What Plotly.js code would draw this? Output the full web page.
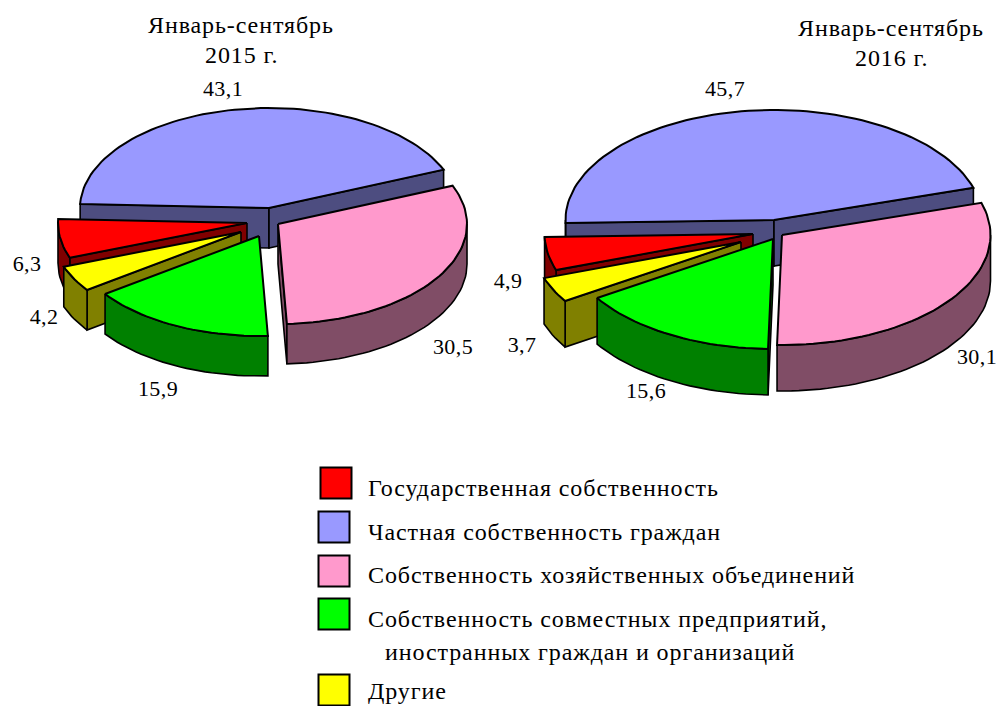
<!DOCTYPE html>
<html><head><meta charset="utf-8">
<script src="https://cdn.plot.ly/plotly-3.0.1.min.js"></script>
<style>
html,body{margin:0;padding:0;background:#fff}
#chart{width:1000px;height:706px}
.annotation-text{letter-spacing:0.9px}
.textpoint text{letter-spacing:0.4px}
</style></head><body><div id="chart"></div>
<script>
const categories = ["Государственная собственность","Частная собственность граждан","Собственность хозяйственных объединений","Собственность совместных предприятий,","Другие"];
const categoryContinuation = "иностранных граждан и организаций";
const values2015 = [6.3,43.1,30.5,15.9,4.2];
const values2016 = [4.9,45.7,30.1,15.6,3.7];
const titles2015 = ["Январь-сентябрь","2015 г."];
const titles2016 = ["Январь-сентябрь","2016 г."];
const topColors  = ["#ff0000","#9999ff","#ff99cc","#00ff00","#ffff00"];
const sideColors = ["#800000","#4d4d80","#804d66","#008000","#808000"];

// Geometry of the two pseudo-3D pies
const pie2015 = {values:values2015, startDeg:22.5, rx:189, ry:100, depth:40,
  tips:[[247,223],[269,208],[278,224],[259,236],[241,232]]};
const pie2016 = {values:values2016, startDeg:17, rx:208.5, ry:110, depth:46,
  tips:[[753,234],[774,220],[782,235],[773,239],[741,242]]};
const labelX2015 = [27,223,453,158,44], labelY2015 = [265,90,348,390,318];
const labelX2016 = [508,725,977,646,522], labelY2016 = [282,90,358,392,346];

const traces = [];
function poly(xs,ys,fill,w){
  traces.push({type:'scatter',mode:'lines',x:xs,y:ys,fill:'toself',fillcolor:fill,
    line:{color:'#000',width:w,shape:'linear'},hoverinfo:'skip',showlegend:false});
}
function rim(p,tip,deg,dz){
  const a=deg*Math.PI/180;
  return [tip[0]+p.rx*Math.cos(a), tip[1]-p.ry*Math.sin(a)+(dz||0)];
}
function drawSlice(p,i,lo,hi){
  const tip=p.tips[i], d=p.depth, side=sideColors[i];
  const cos=x=>Math.cos(x*Math.PI/180);
  [[hi,cos(hi)<0],[lo,cos(lo)>0]].forEach(([ang,vis])=>{
    if(!vis) return;
    const r=rim(p,tip,ang), rb=rim(p,tip,ang,d);
    poly([tip[0],r[0],rb[0],tip[0],tip[0]],[tip[1],r[1],rb[1],tip[1]+d,tip[1]],side,1.6);
  });
  [[-180,0],[180,360]].forEach(([a,b])=>{
    const s=Math.max(lo,a), e=Math.min(hi,b);
    if(e<=s) return;
    const up=[],dn=[];
    for(let t=s;t<e;t+=2){up.push(rim(p,tip,t));dn.push(rim(p,tip,t,d));}
    up.push(rim(p,tip,e));dn.push(rim(p,tip,e,d));
    const pts=up.concat(dn.reverse());pts.push(pts[0]);
    poly(pts.map(q=>q[0]),pts.map(q=>q[1]),side,1.6);
  });
  const pts=[tip];
  for(let t=lo;t<hi;t+=2)pts.push(rim(p,tip,t));
  pts.push(rim(p,tip,hi));pts.push(tip);
  poly(pts.map(q=>q[0]),pts.map(q=>q[1]),topColors[i],2);
}
function drawPie(p){
  const seq=[1,0,4,3,2];
  const spans={};let a=p.startDeg;
  seq.forEach(i=>{const b=a+p.values[i]*3.6;spans[i]=[a,b];a=b;});
  seq.forEach(i=>drawSlice(p,i,spans[i][0],spans[i][1]));
}
drawPie(pie2015);drawPie(pie2016);

// Legend swatches
const swatchX=[336,334,334,334,334];
const swatchY=[483,527,571,614,690];
traces.push({type:'scatter',mode:'markers',x:swatchX,y:swatchY,text:categories,hoverinfo:'text',showlegend:false,
  cliponaxis:false,marker:{symbol:'square',size:31,color:topColors,line:{color:'#000',width:2}}});

// Value labels
const fmt=v=>v.toFixed(1).replace('.',',');
function labels(xs,ys,vals){
  traces.push({type:'scatter',mode:'text',x:xs,y:ys,text:vals.map(fmt),textposition:'middle center',
    cliponaxis:false,hoverinfo:'skip',showlegend:false,
    textfont:{family:'"Liberation Serif",serif',size:22,color:'#000'}});
}
labels(labelX2015,labelY2015,values2015);
labels(labelX2016,labelY2016,values2016);

const ann=[];
function txt(x,y,t,anchor){
  ann.push({x:x,y:y,text:t,showarrow:false,xanchor:anchor||'center',yanchor:'middle',
    font:{family:'"Liberation Serif",serif',size:24,color:'#000'},borderpad:0,borderwidth:0});
}
txt(241,25,titles2015[0]);txt(241,55,titles2015[1]);
txt(891,28,titles2016[0]);txt(891,58,titles2016[1]);
const legendY=[488,532,575,619,691];
categories.forEach((c,i)=>txt(368,legendY[i],c,'left'));
txt(385,652,categoryContinuation,'left');

Plotly.newPlot('chart',traces,{
  width:1000,height:706,margin:{l:0,r:0,t:0,b:0,pad:0},
  paper_bgcolor:'#fff',plot_bgcolor:'#fff',showlegend:false,
  xaxis:{range:[0,1000],visible:false,fixedrange:true},
  yaxis:{range:[706,0],visible:false,fixedrange:true},
  annotations:ann
},{displayModeBar:false,staticPlot:true});
</script></body></html>
